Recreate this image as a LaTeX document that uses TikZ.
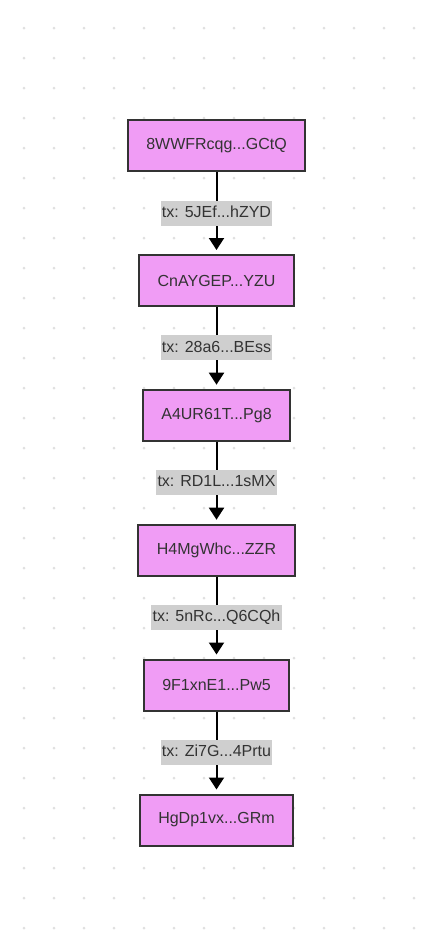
\documentclass[tikz,border=0pt]{standalone}
\usepackage{fontspec}
\setmainfont{Liberation Sans}
\usetikzlibrary{arrows.meta}
\definecolor{nodefill}{RGB}{240,156,245}
\definecolor{nodeborder}{RGB}{51,51,51}
\definecolor{txtc}{RGB}{51,51,51}
\definecolor{lblfill}{RGB}{207,207,207}
\definecolor{dotc}{RGB}{224,224,224}
\tikzset{
  acct/.style={draw=nodeborder, line width=2pt, fill=nodefill, text=txtc,
    minimum height=51pt, inner xsep=18.5pt, inner ysep=0pt,
    font=\fontsize{16}{19}\selectfont},
  txlbl/.style={fill=lblfill, text=txtc, inner xsep=1.2pt, inner ysep=0pt,
    minimum height=25pt, text height=12pt, text depth=3.5pt,
    font=\fontsize{16}{19}\selectfont},
  flow/.style={line width=2pt, black, -{Triangle[width=15pt,length=12pt]}, shorten >=4pt}
}
\begin{document}
\begin{tikzpicture}[x=1pt,y=-1pt]
\useasboundingbox (0,0) rectangle (425,938);
\fill[white] (0,0) rectangle (425,938);
\foreach \i in {0,...,13} {
  \foreach \j in {0,...,30} {
    \fill[dotc] ({24+30*\i},{28+30*\j}) circle (1.5pt);
  }
}
\node[acct] (n1) at (216.5,145.5) {8WWFRcqg...GCtQ};
\node[acct] (n2) at (216.5,280.5) {CnAYGEP...YZU};
\node[acct] (n3) at (216.5,415.2) {A4UR61T...Pg8};
\node[acct] (n4) at (216.5,550.2) {H4MgWhc...ZZR};
\node[acct] (n5) at (216.5,685) {9F1xnE1...Pw5};
\node[acct] (n6) at (216.5,820) {HgDp1vx...GRm};
\draw[flow] (n1.south) -- (n2.north) node[txlbl, pos=0.5] (l1) {tx: 5JEf...hZYD};
\draw[flow] (n2.south) -- (n3.north) node[txlbl, pos=0.5] (l2) {tx: 28a6...BEss};
\draw[flow] (n3.south) -- (n4.north) node[txlbl, pos=0.5] (l3) {tx: RD1L...1sMX};
\draw[flow] (n4.south) -- (n5.north) node[txlbl, pos=0.5] (l4) {tx: 5nRc...Q6CQh};
\draw[flow] (n5.south) -- (n6.north) node[txlbl, pos=0.5] (l5) {tx: Zi7G...4Prtu};
\end{tikzpicture}
\end{document}
